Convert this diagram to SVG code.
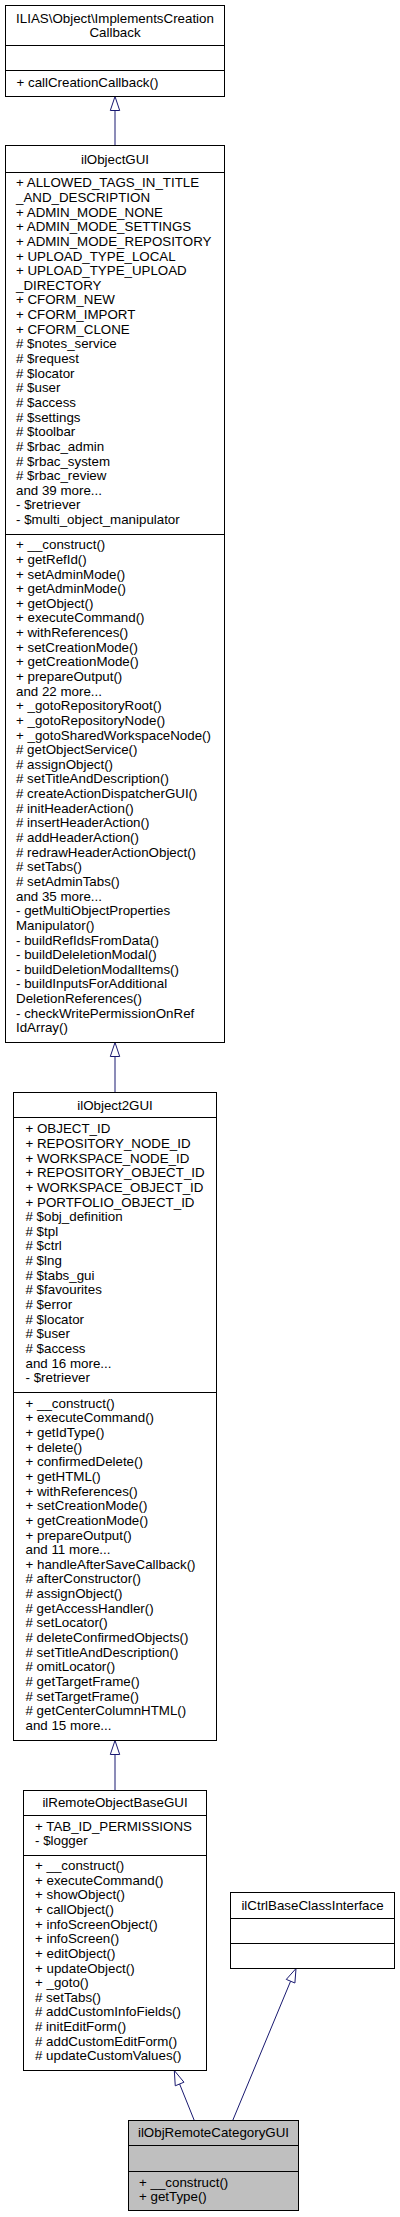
<svg xmlns="http://www.w3.org/2000/svg" width="400" height="2217" viewBox="0 0 400 2217">
<style>
.box{fill:#fff;stroke:#000;stroke-width:1}
.sel{fill:#bfbfbf;stroke:#000;stroke-width:1}
.div{stroke:#000;stroke-width:1}
text{font-family:"Liberation Sans",Arial,Helvetica,sans-serif;font-size:13.33px;fill:#000}
.c{text-anchor:middle}
.edge{stroke:#191970;stroke-width:1;fill:none}
.head{fill:#fff;stroke:#191970;stroke-width:1}
</style>
<rect width="400" height="2217" fill="#fff"/>
<g id="edges">
<line class="edge" x1="115" y1="145.5" x2="115" y2="110.5"/>
<polygon class="head" points="115,96.5 110.3,110.5 119.7,110.5"/>
<line class="edge" x1="115" y1="1092.5" x2="115" y2="1056.5"/>
<polygon class="head" points="115,1042.5 110.3,1056.5 119.7,1056.5"/>
<line class="edge" x1="115" y1="1790.5" x2="115" y2="1754.5"/>
<polygon class="head" points="115,1740.5 110.3,1754.5 119.7,1754.5"/>
<line class="edge" x1="194.3" y1="2120.5" x2="179.6" y2="2084"/>
<polygon class="head" points="174.3,2070.5 183.95,2082.2 175.25,2085.8"/>
<line class="edge" x1="232.7" y1="2120.5" x2="290.6" y2="1981.2"/>
<polygon class="head" points="296,1968.5 294.9,1983 286.3,1979.4"/>
</g>
<g id="node_ImplementsCreationCallback">
<rect class="box" x="5.5" y="5.5" width="219" height="91"/>
<line class="div" x1="5.5" y1="45.5" x2="224.5" y2="45.5"/>
<line class="div" x1="5.5" y1="70.5" x2="224.5" y2="70.5"/>
<text class="c" x="115" y="22.5">ILIAS\Object\ImplementsCreation</text>
<text class="c" x="115" y="37">Callback</text>
<text x="16.5" y="87">+ callCreationCallback()</text>
</g>
<g id="node_ilObjectGUI">
<rect class="box" x="5.5" y="145.5" width="219" height="897"/>
<line class="div" x1="5.5" y1="172.5" x2="224.5" y2="172.5"/>
<line class="div" x1="5.5" y1="534.5" x2="224.5" y2="534.5"/>
<text class="c" x="115" y="163.5">ilObjectGUI</text>
<text x="16" y="187.3">+ ALLOWED_TAGS_IN_TITLE</text>
<text x="16" y="201.9">_AND_DESCRIPTION</text>
<text x="16" y="216.6">+ ADMIN_MODE_NONE</text>
<text x="16" y="231.2">+ ADMIN_MODE_SETTINGS</text>
<text x="16" y="245.9">+ ADMIN_MODE_REPOSITORY</text>
<text x="16" y="260.5">+ UPLOAD_TYPE_LOCAL</text>
<text x="16" y="275.1">+ UPLOAD_TYPE_UPLOAD</text>
<text x="16" y="289.8">_DIRECTORY</text>
<text x="16" y="304.4">+ CFORM_NEW</text>
<text x="16" y="319.1">+ CFORM_IMPORT</text>
<text x="16" y="333.7">+ CFORM_CLONE</text>
<text x="16" y="348.3"># $notes_service</text>
<text x="16" y="363.0"># $request</text>
<text x="16" y="377.6"># $locator</text>
<text x="16" y="392.3"># $user</text>
<text x="16" y="406.9"># $access</text>
<text x="16" y="421.5"># $settings</text>
<text x="16" y="436.2"># $toolbar</text>
<text x="16" y="450.8"># $rbac_admin</text>
<text x="16" y="465.5"># $rbac_system</text>
<text x="16" y="480.1"># $rbac_review</text>
<text x="16" y="494.7">and 39 more...</text>
<text x="16" y="509.4">- $retriever</text>
<text x="16" y="524.0">- $multi_object_manipulator</text>
<text x="16" y="549.2">+ __construct()</text>
<text x="16" y="563.8">+ getRefId()</text>
<text x="16" y="578.5">+ setAdminMode()</text>
<text x="16" y="593.1">+ getAdminMode()</text>
<text x="16" y="607.8">+ getObject()</text>
<text x="16" y="622.4">+ executeCommand()</text>
<text x="16" y="637.0">+ withReferences()</text>
<text x="16" y="651.7">+ setCreationMode()</text>
<text x="16" y="666.3">+ getCreationMode()</text>
<text x="16" y="681.0">+ prepareOutput()</text>
<text x="16" y="695.6">and 22 more...</text>
<text x="16" y="710.2">+ _gotoRepositoryRoot()</text>
<text x="16" y="724.9">+ _gotoRepositoryNode()</text>
<text x="16" y="739.5">+ _gotoSharedWorkspaceNode()</text>
<text x="16" y="754.2"># getObjectService()</text>
<text x="16" y="768.8"># assignObject()</text>
<text x="16" y="783.4"># setTitleAndDescription()</text>
<text x="16" y="798.1"># createActionDispatcherGUI()</text>
<text x="16" y="812.7"># initHeaderAction()</text>
<text x="16" y="827.4"># insertHeaderAction()</text>
<text x="16" y="842.0"># addHeaderAction()</text>
<text x="16" y="856.6"># redrawHeaderActionObject()</text>
<text x="16" y="871.3"># setTabs()</text>
<text x="16" y="885.9"># setAdminTabs()</text>
<text x="16" y="900.6">and 35 more...</text>
<text x="16" y="915.2">- getMultiObjectProperties</text>
<text x="16" y="929.8">Manipulator()</text>
<text x="16" y="944.5">- buildRefIdsFromData()</text>
<text x="16" y="959.1">- buildDeleletionModal()</text>
<text x="16" y="973.8">- buildDeletionModalItems()</text>
<text x="16" y="988.4">- buildInputsForAdditional</text>
<text x="16" y="1003.0">DeletionReferences()</text>
<text x="16" y="1017.7">- checkWritePermissionOnRef</text>
<text x="16" y="1032.3">IdArray()</text>
</g>
<g id="node_ilObject2GUI">
<rect class="box" x="13.5" y="1092.5" width="203" height="648"/>
<line class="div" x1="13.5" y1="1117.5" x2="216.5" y2="1117.5"/>
<line class="div" x1="13.5" y1="1392.5" x2="216.5" y2="1392.5"/>
<text class="c" x="115" y="1109.5">ilObject2GUI</text>
<text x="25.5" y="1133.3">+ OBJECT_ID</text>
<text x="25.5" y="1147.9">+ REPOSITORY_NODE_ID</text>
<text x="25.5" y="1162.6">+ WORKSPACE_NODE_ID</text>
<text x="25.5" y="1177.2">+ REPOSITORY_OBJECT_ID</text>
<text x="25.5" y="1191.9">+ WORKSPACE_OBJECT_ID</text>
<text x="25.5" y="1206.5">+ PORTFOLIO_OBJECT_ID</text>
<text x="25.5" y="1221.1"># $obj_definition</text>
<text x="25.5" y="1235.8"># $tpl</text>
<text x="25.5" y="1250.4"># $ctrl</text>
<text x="25.5" y="1265.1"># $lng</text>
<text x="25.5" y="1279.7"># $tabs_gui</text>
<text x="25.5" y="1294.3"># $favourites</text>
<text x="25.5" y="1309.0"># $error</text>
<text x="25.5" y="1323.6"># $locator</text>
<text x="25.5" y="1338.3"># $user</text>
<text x="25.5" y="1352.9"># $access</text>
<text x="25.5" y="1367.5">and 16 more...</text>
<text x="25.5" y="1382.2">- $retriever</text>
<text x="25.5" y="1407.7">+ __construct()</text>
<text x="25.5" y="1422.3">+ executeCommand()</text>
<text x="25.5" y="1437.0">+ getIdType()</text>
<text x="25.5" y="1451.6">+ delete()</text>
<text x="25.5" y="1466.3">+ confirmedDelete()</text>
<text x="25.5" y="1480.9">+ getHTML()</text>
<text x="25.5" y="1495.5">+ withReferences()</text>
<text x="25.5" y="1510.2">+ setCreationMode()</text>
<text x="25.5" y="1524.8">+ getCreationMode()</text>
<text x="25.5" y="1539.5">+ prepareOutput()</text>
<text x="25.5" y="1554.1">and 11 more...</text>
<text x="25.5" y="1568.7">+ handleAfterSaveCallback()</text>
<text x="25.5" y="1583.4"># afterConstructor()</text>
<text x="25.5" y="1598.0"># assignObject()</text>
<text x="25.5" y="1612.7"># getAccessHandler()</text>
<text x="25.5" y="1627.3"># setLocator()</text>
<text x="25.5" y="1641.9"># deleteConfirmedObjects()</text>
<text x="25.5" y="1656.6"># setTitleAndDescription()</text>
<text x="25.5" y="1671.2"># omitLocator()</text>
<text x="25.5" y="1685.9"># getTargetFrame()</text>
<text x="25.5" y="1700.5"># setTargetFrame()</text>
<text x="25.5" y="1715.1"># getCenterColumnHTML()</text>
<text x="25.5" y="1729.8">and 15 more...</text>
</g>
<g id="node_ilRemoteObjectBaseGUI">
<rect class="box" x="23.5" y="1790.5" width="183" height="280"/>
<line class="div" x1="23.5" y1="1815.5" x2="206.5" y2="1815.5"/>
<line class="div" x1="23.5" y1="1855.5" x2="206.5" y2="1855.5"/>
<text class="c" x="115" y="1806.5">ilRemoteObjectBaseGUI</text>
<text x="35" y="1830.7">+ TAB_ID_PERMISSIONS</text>
<text x="35" y="1845.3">- $logger</text>
<text x="35" y="1870.0">+ __construct()</text>
<text x="35" y="1884.6">+ executeCommand()</text>
<text x="35" y="1899.3">+ showObject()</text>
<text x="35" y="1913.9">+ callObject()</text>
<text x="35" y="1928.6">+ infoScreenObject()</text>
<text x="35" y="1943.2">+ infoScreen()</text>
<text x="35" y="1957.8">+ editObject()</text>
<text x="35" y="1972.5">+ updateObject()</text>
<text x="35" y="1987.1">+ _goto()</text>
<text x="35" y="2001.8"># setTabs()</text>
<text x="35" y="2016.4"># addCustomInfoFields()</text>
<text x="35" y="2031.0"># initEditForm()</text>
<text x="35" y="2045.7"># addCustomEditForm()</text>
<text x="35" y="2060.3"># updateCustomValues()</text>
</g>
<g id="node_ilCtrlBaseClassInterface">
<rect class="box" x="230.5" y="1892.5" width="164" height="76"/>
<line class="div" x1="230.5" y1="1918.5" x2="394.5" y2="1918.5"/>
<line class="div" x1="230.5" y1="1943.5" x2="394.5" y2="1943.5"/>
<text class="c" x="312.5" y="1909.5">ilCtrlBaseClassInterface</text>
</g>
<g id="node_ilObjRemoteCategoryGUI">
<rect class="sel" x="128.5" y="2120.5" width="170" height="90"/>
<line class="div" x1="128.5" y1="2145.5" x2="298.5" y2="2145.5"/>
<line class="div" x1="128.5" y1="2171.5" x2="298.5" y2="2171.5"/>
<text class="c" x="213.5" y="2137">ilObjRemoteCategoryGUI</text>
<text x="139" y="2186.7">+ __construct()</text>
<text x="139" y="2201.3">+ getType()</text>
</g>
</svg>
